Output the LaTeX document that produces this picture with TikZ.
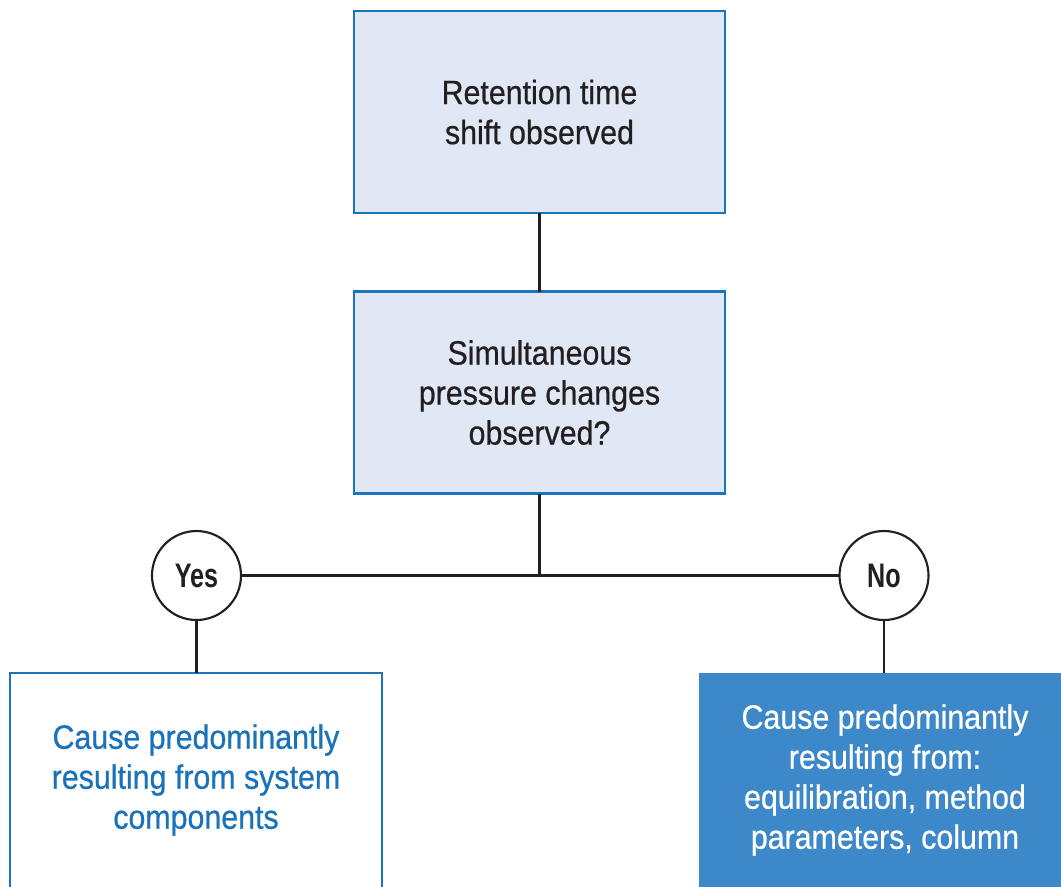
\documentclass[tikz,border=0pt]{standalone}
\usepackage{fontspec}
\setmainfont{Liberation Sans}[FakeStretch=0.9,FakeBold=0.6]
\newfontfamily\yesnofont{Liberation Sans}[FakeStretch=0.74]
\definecolor{boxblue}{HTML}{1B75BC}
\definecolor{boxfill}{HTML}{E1E8F5}
\definecolor{darkfill}{HTML}{3D88C8}
\definecolor{txt}{HTML}{231F20}
\definecolor{bluetxt}{HTML}{1A72BA}
\begin{document}
\begin{tikzpicture}[x=0.75pt,y=-0.75pt,
  every node/.style={inner sep=0pt,outer sep=0pt},
  mainfont/.style={font=\fontsize{25.3pt}{30pt}\selectfont,align=center},
  lightbox/.style={draw=boxblue,line width=1.9pt,fill=boxfill,minimum width={371*0.75pt},minimum height={202*0.75pt},mainfont,text=txt},
  whitebox/.style={draw=boxblue,line width=1.9pt,fill=white,minimum width={372*0.75pt},minimum height={276*0.75pt}},
  darkbox/.style={fill=darkfill,minimum width={371*0.75pt},minimum height={276*0.75pt}},
  answer/.style={circle,draw=txt,line width=1.6pt,fill=white,minimum size={89*0.75pt},font=\yesnofont\bfseries\fontsize{25.5pt}{25.5pt}\selectfont,text=txt},
  link/.style={draw=txt,line width=1.6pt}]
\useasboundingbox (0,0) rectangle (1061,886);
\clip (0,0) rectangle (1061,886);
\node[lightbox] (q1) at (539.5,112) {Retention time\\shift observed};
\node[lightbox] (q2) at (539.5,392.5) {Simultaneous\\pressure changes\\observed?};
\node[answer] (yes) at (196.5,575.5) {Yes};
\node[answer] (no) at (884,575.5) {No};
\node[whitebox] (r1) at (196,811) {};
\node[darkbox] (r2) at (884.5,811) {};
\node[mainfont,text=bluetxt] (t1) at (196,780) {Cause predominantly\\resulting from system\\components};
\node[mainfont,text=white] (t2) at (885,780) {Cause predominantly\\resulting from:\\equilibration, method\\parameters, column};
\draw[link] (q1.south) -- (q2.north);
\draw[link] (q2.south) -- (q2.south |- yes.east);
\draw[link] (yes.east) -- (no.west);
\draw[link] (yes.south) -- (yes.south |- r1.north);
\draw[link] (no.south) -- (no.south |- r2.north);
\end{tikzpicture}
\end{document}
